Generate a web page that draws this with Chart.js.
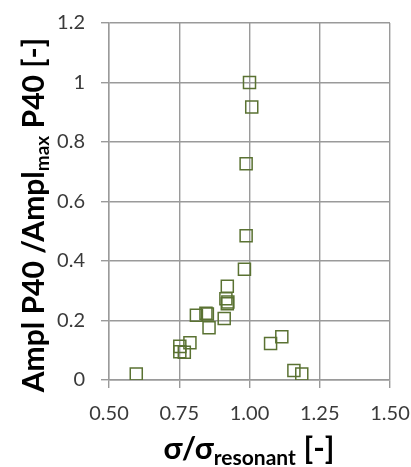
<!DOCTYPE html>
<html>
<head>
<meta charset="utf-8">
<script src="https://cdn.jsdelivr.net/npm/chart.js@4.4.1/dist/chart.umd.min.js"></script>
<style>
  html, body { margin: 0; padding: 0; background: #fff; }
  #wrap { width: 411px; height: 467px; }
</style>
</head>
<body>
<div id="wrap"><canvas id="ampChart"></canvas></div>
<script>
const xValues = [1.000, 1.008, 0.988, 0.988, 0.982, 0.921, 0.916, 0.921, 0.923, 0.910, 0.850, 0.845, 0.811, 0.856, 0.788, 0.752, 0.752, 0.768, 0.597, 1.075, 1.115, 1.158, 1.186];
const yValues = [1.000, 0.918, 0.727, 0.485, 0.372, 0.315, 0.273, 0.256, 0.262, 0.207, 0.222, 0.224, 0.218, 0.176, 0.125, 0.113, 0.095, 0.093, 0.020, 0.123, 0.145, 0.032, 0.020];
const xTickLabels = ['0.50', '0.75', '1.00', '1.25', '1.50'];
const yTickLabels = ['0', '0.2', '0.4', '0.6', '0.8', '1', '1.2'];

const points = xValues.map((x, i) => ({ x: x, y: yValues[i] }));

const FONT = 'Lato, "Open Sans", sans-serif';
const gridColor = '#9a9a9a';

// axis titles with subscripts, drawn by hand
const titlePlugin = {
    id: 'subTitles',
    afterDraw(chart) {
        const ctx = chart.ctx;
        ctx.save();
        ctx.fillStyle = '#000';
        ctx.textBaseline = 'alphabetic';

        // y title
        const yParts = [
            { t: 'Ampl P40 /Ampl', f: 'bold 30px ' + FONT, dy: 0 },
            { t: 'max', f: 'bold 19px ' + FONT, dy: 5 },
            { t: ' P40 [-]', f: 'bold 30px ' + FONT, dy: 0 }
        ];
        let total = 0;
        yParts.forEach(p => { ctx.font = p.f; p.w = ctx.measureText(p.t).width; total += p.w; });
        ctx.translate(44, 215);
        ctx.rotate(-Math.PI / 2);
        let x = -total / 2;
        yParts.forEach(p => { ctx.font = p.f; ctx.fillText(p.t, x, p.dy); x += p.w; });
        ctx.setTransform(1, 0, 0, 1, 0, 0);

        // x title
        const xParts = [
            { t: 'σ/σ', f: 'bold 31px ' + FONT, dy: 0 },
            { t: 'resonant', f: 'bold 21px ' + FONT, dy: 6 },
            { t: ' [-]', f: 'bold 31px ' + FONT, dy: 0 }
        ];
        total = 0;
        xParts.forEach(p => { ctx.font = p.f; p.w = ctx.measureText(p.t).width; total += p.w; });
        x = 249 - total / 2;
        xParts.forEach(p => { ctx.font = p.f; ctx.fillText(p.t, x, 459 + p.dy); x += p.w; });
        ctx.restore();
    }
};

const ctx = document.getElementById('ampChart').getContext('2d');
new Chart(ctx, {
    type: 'scatter',
    data: {
        datasets: [{
            data: points,
            pointStyle: 'rect',
            pointRadius: 8.5,
            pointHoverRadius: 8.5,
            borderWidth: 1.5,
            borderColor: '#5a7232',
            backgroundColor: 'rgba(0,0,0,0)'
        }]
    },
    options: {
        responsive: true,
        maintainAspectRatio: false,
        animation: false,
        layout: { padding: { top: 23, right: 21, left: 0, bottom: 0 } },
        plugins: {
            legend: { display: false },
            tooltip: { enabled: false }
        },
        scales: {
            x: {
                type: 'linear',
                min: 0.5,
                max: 1.5,
                afterFit: (s) => { s.height = 87; s.paddingLeft = 0; s.paddingRight = 0; },
                ticks: {
                    stepSize: 0.25,
                    padding: 14,
                    color: '#3a3a3a',
                    font: { family: FONT, size: 20 },
                    callback: (v, i) => xTickLabels[i]
                },
                grid: { color: gridColor, lineWidth: 1.4, tickLength: 8 },
                border: { color: gridColor, width: 1.4 }
            },
            y: {
                type: 'linear',
                min: 0,
                max: 1.2,
                afterFit: (s) => { s.width = 109; s.paddingTop = 0; s.paddingBottom = 0; },
                ticks: {
                    stepSize: 0.2,
                    padding: 16,
                    color: '#3a3a3a',
                    font: { family: FONT, size: 20 },
                    callback: (v, i) => yTickLabels[i]
                },
                grid: { color: gridColor, lineWidth: 1.4, tickLength: 8 },
                border: { color: gridColor, width: 1.4 }
            }
        }
    },
    plugins: [titlePlugin]
});
</script>
</body>
</html>
